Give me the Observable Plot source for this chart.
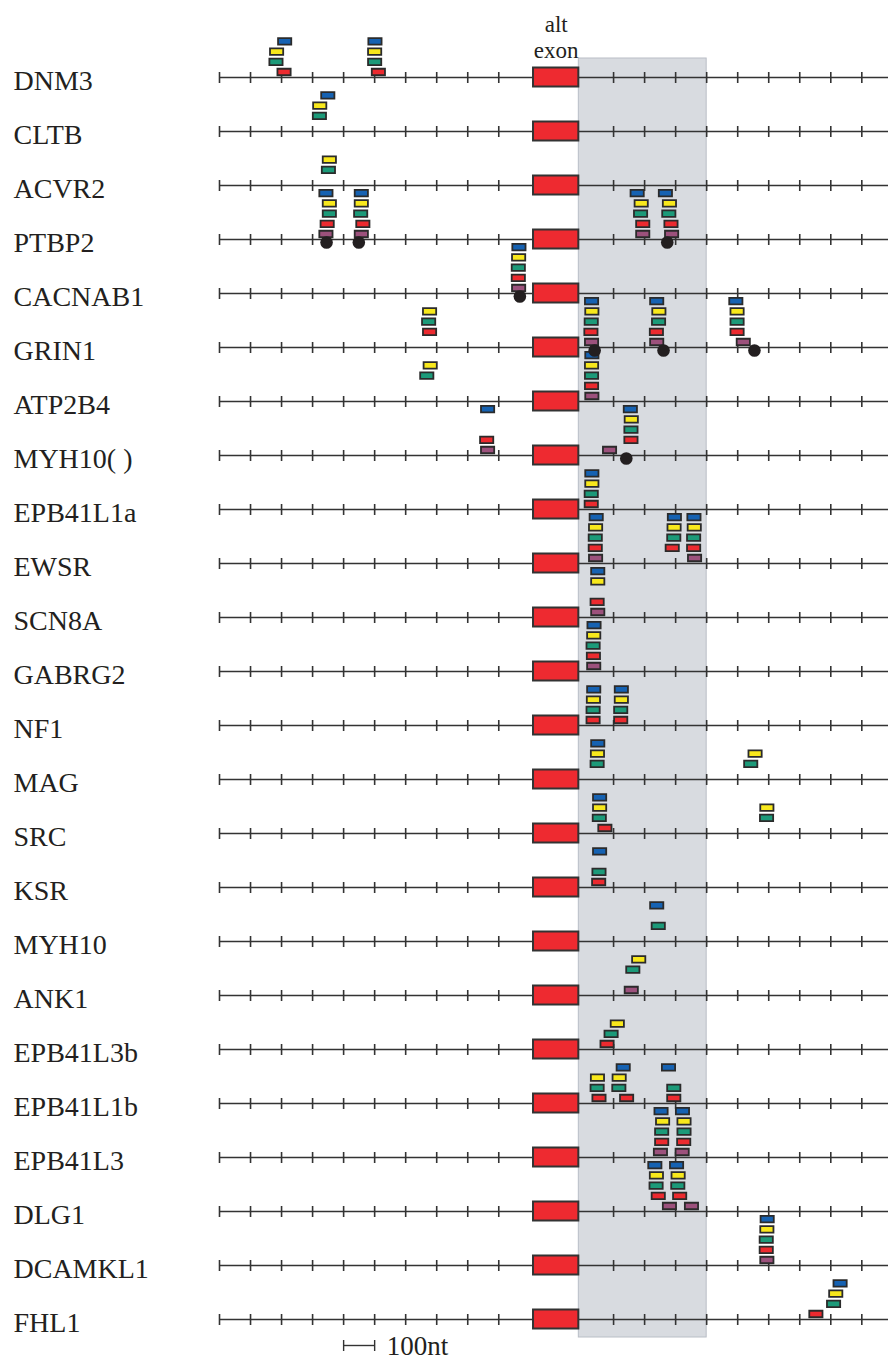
<!DOCTYPE html>
<html>
<head>
<meta charset="utf-8">
<script src="https://cdn.jsdelivr.net/npm/d3@7"></script>
<script src="https://cdn.jsdelivr.net/npm/@observablehq/plot@0.6"></script>
<style>
  html, body { margin: 0; padding: 0; background: #fff; }
  svg { display: block; }
</style>
</head>
<body>
<script>
// Genes (rows, top to bottom)
const genes = ["DNM3","CLTB","ACVR2","PTBP2","CACNAB1","GRIN1","ATP2B4","MYH10( )","EPB41L1a","EWSR",
  "SCN8A","GABRG2","NF1","MAG","SRC","KSR","MYH10","ANK1","EPB41L3b","EPB41L1b","EPB41L3","DLG1","DCAMKL1","FHL1"];

// Tick positions (nt): upstream of the alt exon (negative) and downstream (positive)
const upstreamTicks = [-1000,-900,-800,-700,-600,-500,-400,-300,-200,-100];
const downstreamTicks = [100,200,300,400,500,600,700,800,900];

// Motif occurrences per species series: [gene, position in nt]
// negative = upstream of exon start, positive = downstream of exon end
const blueSites = [
  ["DNM3",-790],["DNM3",-499],["CLTB",-651],
  ["PTBP2",-657],["PTBP2",-543],["PTBP2",176],["PTBP2",267],
  ["CACNAB1",-35],["GRIN1",29],["GRIN1",239],["GRIN1",494],["ATP2B4",30],
  ["MYH10( )",-136],["MYH10( )",154],["EPB41L1a",30],
  ["EWSR",44],["EWSR",296],["EWSR",359],["SCN8A",49],["GABRG2",37],
  ["NF1",36],["NF1",125],["MAG",49],["SRC",55],["KSR",55],["MYH10",239],
  ["EPB41L1b",131],["EPB41L1b",277],["EPB41L3",253],["EPB41L3",322],
  ["DLG1",233],["DLG1",303],["DCAMKL1",595],["FHL1",830]
];
const yellowSites = [
  ["DNM3",-816],["DNM3",-500],["CLTB",-677],["ACVR2",-646],
  ["PTBP2",-646],["PTBP2",-543],["PTBP2",189],["PTBP2",280],
  ["CACNAB1",-36],["GRIN1",-323],["GRIN1",30],["GRIN1",246],["GRIN1",498],
  ["ATP2B4",-321],["ATP2B4",29],["MYH10( )",157],["EPB41L1a",30],
  ["EWSR",42],["EWSR",295],["EWSR",360],["SCN8A",49],["GABRG2",36],
  ["NF1",35],["NF1",125],["MAG",48],["MAG",556],["SRC",55],["SRC",594],
  ["ANK1",181],["EPB41L3b",112],["EPB41L1b",48],["EPB41L1b",118],
  ["EPB41L3",258],["EPB41L3",327],["DLG1",238],["DLG1",308],["DCAMKL1",594],["FHL1",816]
];
const greenSites = [
  ["DNM3",-818],["DNM3",-500],["CLTB",-678],["ACVR2",-649],
  ["PTBP2",-646],["PTBP2",-545],["PTBP2",187],["PTBP2",278],
  ["CACNAB1",-37],["GRIN1",-326],["GRIN1",28],["GRIN1",245],["GRIN1",498],
  ["ATP2B4",-332],["ATP2B4",29],["MYH10( )",156],["EPB41L1a",28],
  ["EWSR",41],["EWSR",294],["EWSR",358],["GABRG2",34],
  ["NF1",34],["NF1",123],["MAG",47],["MAG",542],["SRC",54],["SRC",593],
  ["KSR",53],["MYH10",244],["ANK1",162],["EPB41L3b",92],
  ["EPB41L1b",47],["EPB41L1b",117],["EPB41L1b",294],
  ["EPB41L3",255],["EPB41L3",327],["DLG1",237],["DLG1",307],["DCAMKL1",592],["FHL1",809]
];
const redSites = [
  ["DNM3",-792],["DNM3",-488],
  ["PTBP2",-653],["PTBP2",-538],["PTBP2",194],["PTBP2",285],
  ["CACNAB1",-37],["GRIN1",-323],["GRIN1",27],["GRIN1",238],["GRIN1",498],
  ["ATP2B4",29],["MYH10( )",-139],["MYH10( )",156],["EPB41L1a",28],
  ["EWSR",41],["EWSR",289],["EWSR",358],["SCN8A",47],["GABRG2",35],
  ["NF1",34],["NF1",123],["SRC",72],["KSR",52],["EPB41L3b",79],
  ["EPB41L1b",53],["EPB41L1b",142],["EPB41L1b",294],
  ["EPB41L3",255],["EPB41L3",326],["DLG1",244],["DLG1",313],["DCAMKL1",592],["FHL1",752]
];
const purpleSites = [
  ["PTBP2",-657],["PTBP2",-543],["PTBP2",194],["PTBP2",287],
  ["CACNAB1",-36],["GRIN1",29],["GRIN1",239],["GRIN1",518],["ATP2B4",30],
  ["MYH10( )",-136],["MYH10( )",87],["EWSR",42],["EWSR",361],
  ["SCN8A",49],["GABRG2",36],["ANK1",157],
  ["EPB41L3",251],["EPB41L3",321],["DLG1",280],["DLG1",351],["DCAMKL1",594]
];
// Black dots
const dotSites = [
  ["PTBP2",-655],["PTBP2",-551],["PTBP2",273],["CACNAB1",-32],
  ["GRIN1",39],["GRIN1",261],["GRIN1",554],["MYH10( )",141]
];

// Styles
const speciesOrder = ["purple","red","green","yellow","blue"]; // bottom -> top in each stack
const speciesColor = {blue:"#1662b2", yellow:"#f8e81c", green:"#1c9a79", red:"#ec2a2f", purple:"#9c517c"};
const exonSpan = 170;      // virtual width reserved for the exon (nt units)
const exonInset = 12;      // exon box inset
const shadeEnd = 400;      // shaded downstream window (nt)
const toV = p => p < 0 ? p : exonSpan + p;

const seriesList = {blue: blueSites, yellow: yellowSites, green: greenSites, red: redSites, purple: purpleSites};
const motifs = [];
for (const [sp, arr] of Object.entries(seriesList)) for (const [gene, pos] of arr) motifs.push({gene, pos, sp});
const hasPurple = new Set(purpleSites.map(d => d[0]));
for (const m of motifs) m.slot = speciesOrder.indexOf(m.sp) - (hasPurple.has(m.gene) ? 0 : 1);

const ticks = [];
for (const g of genes) for (const t of [...upstreamTicks, ...downstreamTicks]) ticks.push({gene: g, v: toV(t)});

const vTick = {draw(ctx) { ctx.moveTo(0, -5.5); ctx.lineTo(0, 5.5); }};
const boxSym = {draw(ctx) { ctx.rect(-6.6, -3.25, 13.2, 6.5); }};
const ink = "#2b2b2b";
const lastGene = genes[genes.length - 1];

const motifMarks = [0,1,2,3,4].map(s => Plot.dot(motifs.filter(m => m.slot === s), {
  x: m => toV(m.pos), y: "gene", symbol: boxSym, r: 3,
  fill: m => speciesColor[m.sp], stroke: ink, strokeWidth: 1.8,
  dy: -(5.5 + s * 10.2)
}));

const chart = Plot.plot({
  width: 888, height: 1362,
  marginLeft: 219, marginRight: 0, marginTop: 71, marginBottom: 37,
  x: {domain: [-1000, 1156], range: [219, 888], axis: null},
  y: {type: "point", domain: genes, range: [71, 1325], padding: 0, align: 0.5, axis: null},
  color: {type: "identity"},
  style: {fontFamily: "'Liberation Serif', 'DejaVu Serif', serif", background: "#fff", color: "#231f20"},
  marks: [
    // shaded downstream window
    Plot.rect([0], {x1: () => exonSpan - exonInset, x2: () => exonSpan + shadeEnd,
      y1: () => genes[0], y2: () => lastGene, insetTop: -19, insetBottom: -18,
      fill: "#d8dbe0", stroke: "#b9bec6", strokeWidth: 1}),
    // gene lines
    Plot.ruleY(genes, {y: d => d, stroke: "#333", strokeWidth: 1.6}),
    // 100nt ticks
    Plot.dot(ticks, {x: "v", y: "gene", symbol: vTick, fill: "none", stroke: "#333", strokeWidth: 1.6}),
    // alt exon boxes
    Plot.rect(genes, {x1: () => exonInset, x2: () => exonSpan - exonInset, y1: d => d, y2: d => d,
      insetTop: -9.5, insetBottom: -9.5, fill: "#ee2a30", stroke: "#333", strokeWidth: 2}),
    ...motifMarks,
    Plot.dot(dotSites, {x: d => toV(d[1]), y: d => d[0], r: 6.3, fill: "#231f20", dy: 3}),
    // gene names
    Plot.text(genes, {y: d => d, frameAnchor: "left", dx: -206, dy: 4, textAnchor: "start",
      fontSize: 28, fill: "#231f20"}),
    // alt exon label
    Plot.text(["alt\nexon"], {x: () => exonSpan / 2, y: () => genes[0], dy: -20, lineAnchor: "bottom",
      lineHeight: 1.11, fontSize: 23, fill: "#231f20"}),
    // scale bar
    Plot.ruleY([lastGene], {y: d => d, x1: () => -600, x2: () => -500, dy: 26, stroke: "#333", strokeWidth: 1.4}),
    Plot.dot([-600, -500], {x: d => d, y: () => lastGene, dy: 26, symbol: vTick, fill: "none", stroke: "#333", strokeWidth: 1.4}),
    Plot.text(["100nt"], {x: () => -500, y: () => lastGene, dx: 12, dy: 27, textAnchor: "start",
      fontSize: 27, fill: "#231f20"})
  ]
});
document.body.appendChild(chart);
</script>
</body>
</html>
